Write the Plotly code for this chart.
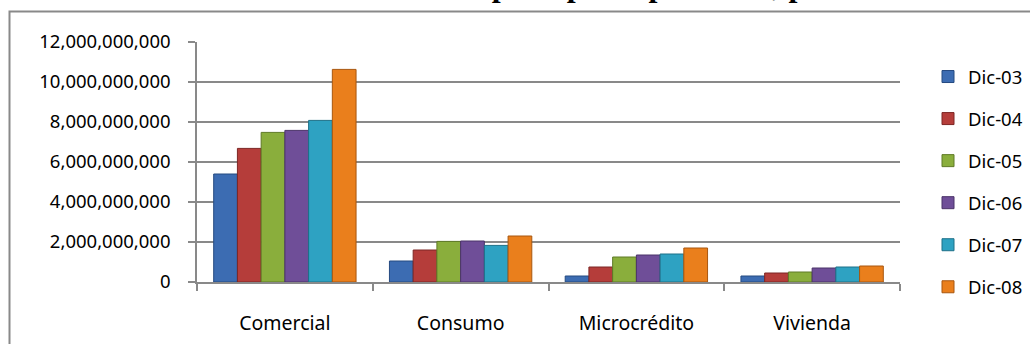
import plotly.graph_objects as go

categories = ["Comercial", "Consumo", "Microcrédito", "Vivienda"]
series_names = ["Dic-03", "Dic-04", "Dic-05", "Dic-06", "Dic-07", "Dic-08"]

dic03 = [5.40e9, 1.05e9, 0.30e9, 0.30e9]
dic04 = [6.68e9, 1.60e9, 0.75e9, 0.45e9]
dic05 = [7.48e9, 2.03e9, 1.25e9, 0.50e9]
dic06 = [7.58e9, 2.05e9, 1.35e9, 0.70e9]
dic07 = [8.08e9, 1.83e9, 1.40e9, 0.75e9]
dic08 = [10.63e9, 2.30e9, 1.70e9, 0.80e9]
series_values = [dic03, dic04, dic05, dic06, dic07, dic08]

y_tick_values = [0, 2e9, 4e9, 6e9, 8e9, 10e9, 12e9]
title_text = "Cartera bruta por tipo de producto, por año"

fill_colors = ["#3c6cb2", "#b53d3a", "#8aae3c", "#6f4e98", "#2ea2c2", "#ea7f1c"]
line_colors = ["#254a80", "#7d2624", "#5f7a26", "#4b3369", "#1d7088", "#a8570f"]

fig = go.Figure()
for name, vals, fc, lc in zip(series_names, series_values, fill_colors, line_colors):
    fig.add_trace(go.Bar(
        x=categories, y=vals, name=name, legendgroup=name,
        marker=dict(color=fc, line=dict(color=lc, width=1)),
    ))

# plot area geometry (pixels)
L, R, T, B = 197, 900, 42, 282
W, H = 1030, 344
pw, ph = R - L, B - T

def px_x(x):
    return (x - L) / pw

def px_y(y):
    return (B - y) / ph

grid = "#898989"
font_family = "Noto Sans"

fig.update_layout(
    width=W, height=H,
    margin=dict(l=L, r=W - R, t=T, b=H - B, pad=0, autoexpand=False),
    paper_bgcolor="white", plot_bgcolor="white",
    barmode="group", bargap=0.19, bargroupgap=0,
    font=dict(family=font_family, color="black", size=18.5),
    showlegend=True,
    legend=dict(
        x=px_x(928), xanchor="left", y=px_y(58), yanchor="top",
        font=dict(family=font_family, size=18.5, color="black"),
        traceorder="grouped", tracegroupgap=15,
        bgcolor="rgba(0,0,0,0)", maxheight=340,
    ),
    xaxis=dict(
        type="category", tickson="boundaries",
        showline=True, linecolor=grid, linewidth=1.5,
        ticks="outside", ticklen=7, tickcolor=grid, tickwidth=1.5,
        showgrid=False, tickfont=dict(family=font_family, size=19.5, color="black"),
        ticklabelstandoff=23,
    ),
    yaxis=dict(
        range=[0, 12e9], tickvals=y_tick_values, tickformat=",d",
        showline=True, linecolor=grid, linewidth=1.5,
        ticks="outside", ticklen=7, tickcolor=grid, tickwidth=1.5,
        showgrid=True, gridcolor=grid, gridwidth=1.5, zeroline=False,
        tickfont=dict(family=font_family, size=18.5, color="black"),
        ticklabelstandoff=14,
    ),
    shapes=[dict(
        type="rect", xref="paper", yref="paper",
        x0=px_x(9.5), x1=px_x(1040), y0=px_y(360), y1=px_y(11.5),
        line=dict(color=grid, width=2), fillcolor="rgba(0,0,0,0)", layer="below",
    )],
    annotations=[dict(
        text=title_text, xref="paper", yref="paper",
        x=px_x(289), xanchor="left", y=px_y(5), yanchor="bottom",
        showarrow=False,
        font=dict(family="Liberation Serif", size=32, color="black", weight="bold"),
    )],
)

fig.write_html("out.html")
